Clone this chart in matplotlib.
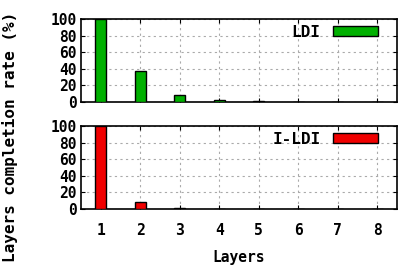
import numpy as np
import matplotlib
matplotlib.use('Agg')
import matplotlib.pyplot as plt

layers = [1, 2, 3, 4, 5, 6, 7, 8]
ldi = [100, 37, 9, 3, 1, 0, 0, 0]
ildi = [100, 9, 1, 0, 0, 0, 0, 0]

plt.rcParams['font.family'] = 'DejaVu Sans Mono'
plt.rcParams['font.weight'] = 'bold'
plt.rcParams['font.size'] = 10.5

fig = plt.figure(figsize=(4.11, 2.73), dpi=100)
W, H = 411.0, 273.0
ax1 = fig.add_axes([81 / W, 1 - 102 / H, 316 / W, 83 / H])
ax2 = fig.add_axes([81 / W, 1 - 209 / H, 316 / W, 83 / H])

for ax, vals, col, lab in [(ax1, ldi, '#00b000', 'LDI'), (ax2, ildi, '#f00000', 'I-LDI')]:
    ax.bar(layers, vals, width=0.28, color=col, edgecolor='black', linewidth=1, label=lab, zorder=3)
    ax.set_xlim(0.5, 8.5)
    ax.set_ylim(0, 100)
    ax.set_yticks([0, 20, 40, 60, 80, 100])
    ax.set_xticks(layers)
    ax.grid(color='#aaaaaa', linestyle=(0, (2, 3)), linewidth=0.8)
    ax.tick_params(direction='in', top=True, right=True, length=3, labelsize=10.5, pad=3)
    ax.tick_params(axis='x', pad=10)
    for s in ax.spines.values():
        s.set_linewidth(1.2)
    leg = ax.legend(loc='upper right', bbox_to_anchor=(0.94, 0.93), frameon=False,
                    markerfirst=False, handlelength=2.8, handleheight=0.55, fontsize=11.5,
                    borderaxespad=0, borderpad=0, handletextpad=0.8)

ax1.tick_params(labelbottom=False)
ax2.set_xlabel('Layers', fontsize=10.5, fontweight='bold', labelpad=9)
fig.text(10 / W, 0.5, 'Layers completion rate (%)', rotation=90, va='center', ha='center',
         fontsize=11.5, fontweight='bold')

plt.savefig('out.png', dpi=100)
